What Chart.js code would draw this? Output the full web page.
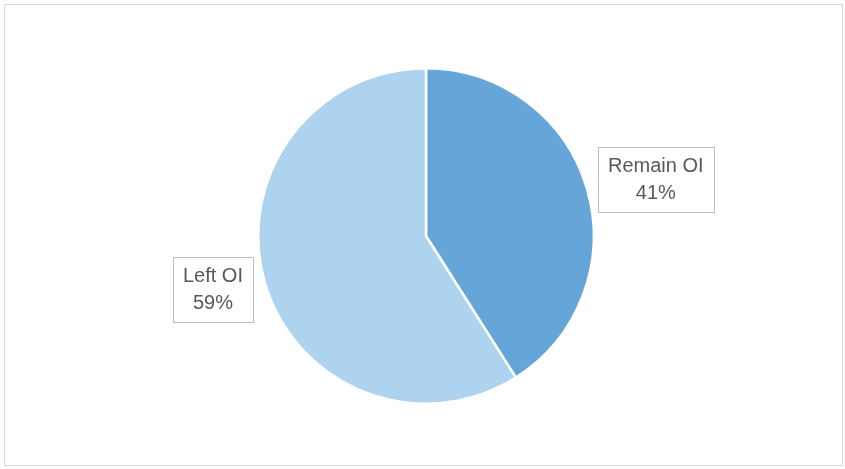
<!DOCTYPE html>
<html>
<head>
<meta charset="utf-8">
<script src="https://cdn.jsdelivr.net/npm/chart.js@4/dist/chart.umd.min.js"></script>
<style>
  html, body { margin: 0; padding: 0; background: #fff; }
  #wrap { position: relative; width: 845px; height: 469px; }
  #frame { position: absolute; left: 4px; top: 4px; width: 839px; height: 462px; border: 1px solid #d9d9d9; box-sizing: border-box; pointer-events: none; }
  canvas { position: absolute; left: 0; top: 0; }
</style>
</head>
<body>
<div id="wrap">
  <canvas id="pie" width="845" height="469"></canvas>
  <div id="frame"></div>
</div>
<script>
// data
const categories = ['Remain OI', 'Left OI'];
const values = [41, 59];
const sliceColors = ['#65a5d8', '#aed3ef'];

// label boxes drawn next to each slice (angle offset in degrees, distance as radius factor)
const labelPlacement = [
  { turn: 2.5, dist: 1.41 },
  { turn: 2, dist: 1.31 }
];

const labelBoxes = {
  id: 'labelBoxes',
  afterDatasetsDraw(chart) {
    const ctx = chart.ctx;
    const meta = chart.getDatasetMeta(0);
    const total = values.reduce((a, b) => a + b, 0);
    ctx.save();
    ctx.font = '20px "Liberation Sans", Arial, sans-serif';
    ctx.textAlign = 'center';
    ctx.textBaseline = 'middle';
    meta.data.forEach((arc, i) => {
      const p = arc.getProps(['x', 'y', 'startAngle', 'endAngle', 'outerRadius'], true);
      const mid = (p.startAngle + p.endAngle) / 2 + labelPlacement[i].turn * Math.PI / 180;
      const r = p.outerRadius * labelPlacement[i].dist;
      const cx = p.x + Math.cos(mid) * r;
      const cy = p.y + Math.sin(mid) * r;
      const line1 = categories[i];
      const line2 = Math.round(values[i] / total * 100) + '%';
      const w = Math.max(ctx.measureText(line1).width, ctx.measureText(line2).width) + 20;
      const h = 65;
      ctx.fillStyle = '#fff';
      ctx.fillRect(cx - w / 2, cy - h / 2, w, h);
      ctx.strokeStyle = '#bfbfbf';
      ctx.lineWidth = 1;
      ctx.strokeRect(Math.round(cx - w / 2) + 0.5, Math.round(cy - h / 2) + 0.5, Math.round(w), h);
      ctx.fillStyle = '#595959';
      ctx.fillText(line1, cx, cy - 13);
      ctx.fillText(line2, cx, cy + 14);
    });
    ctx.restore();
  }
};

new Chart(document.getElementById('pie'), {
  type: 'pie',
  data: {
    labels: categories,
    datasets: [{
      data: values,
      backgroundColor: sliceColors,
      borderColor: '#ffffff',
      borderWidth: 2.5
    }]
  },
  options: {
    responsive: false,
    animation: false,
    layout: { padding: { left: 257, right: 250, top: 67, bottom: 64 } },
    plugins: {
      legend: { display: false },
      tooltip: { enabled: false },
      title: { display: false }
    }
  },
  plugins: [labelBoxes]
});
</script>
</body>
</html>
